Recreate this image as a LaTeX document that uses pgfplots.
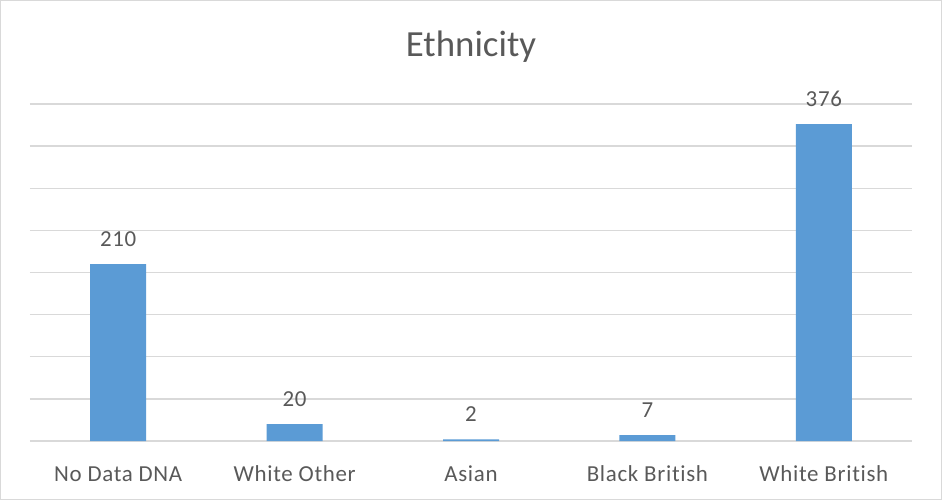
\documentclass[border=0pt]{standalone}
\usepackage{pgfplots}
\pgfplotsset{compat=1.18}
\usepackage{fontspec}
\setmainfont{Carlito}[Ligatures=NoCommon]
\newfontfamily\lblfont{Carlito}[Ligatures=NoCommon, LetterSpace=3]
\definecolor{barblue}{HTML}{5B9BD5}
\definecolor{gridgray}{HTML}{D9D9D9}
\definecolor{txtgray}{HTML}{595959}
\begin{document}
\begin{tikzpicture}
\begin{axis}[
  at={(0,0)}, anchor=south west,
  scale only axis,
  width=882bp, height=337bp,
  xmin=-0.5, xmax=4.5,
  ymin=0, ymax=400,
  ytick={0,50,...,400},
  yticklabels={},
  ymajorgrids,
  grid style={gridgray, line width=1.3bp},
  axis line style={draw=none},
  major tick length=0pt,
  xtick=data,
  xticklabels={No Data DNA, White Other, Asian, Black British, White British},
  xticklabel style={font=\lblfont\fontsize{23}{27}\selectfont, text=txtgray, anchor=base, yshift=-40bp},
  ybar,
  bar width=56bp,
  nodes near coords,
  /pgf/number format/assume math mode=true,
  every node near coord/.append style={font=\lblfont\fontsize{23}{27}\selectfont, text=txtgray, anchor=base, yshift=18bp},
  title={Ethnicity},
  title style={font=\fontsize{37}{42}\selectfont, text=txtgray, at={(0.5,1)}, anchor=base, yshift=42bp},
  clip=false,
]
\addplot[fill=barblue, draw=none] coordinates {(0,210) (1,20) (2,2) (3,7) (4,376)};
\end{axis}
\draw[gridgray, line width=1.3bp] (-29.35bp,-58.35bp) rectangle (911.35bp,440.35bp);
\end{tikzpicture}
\end{document}
